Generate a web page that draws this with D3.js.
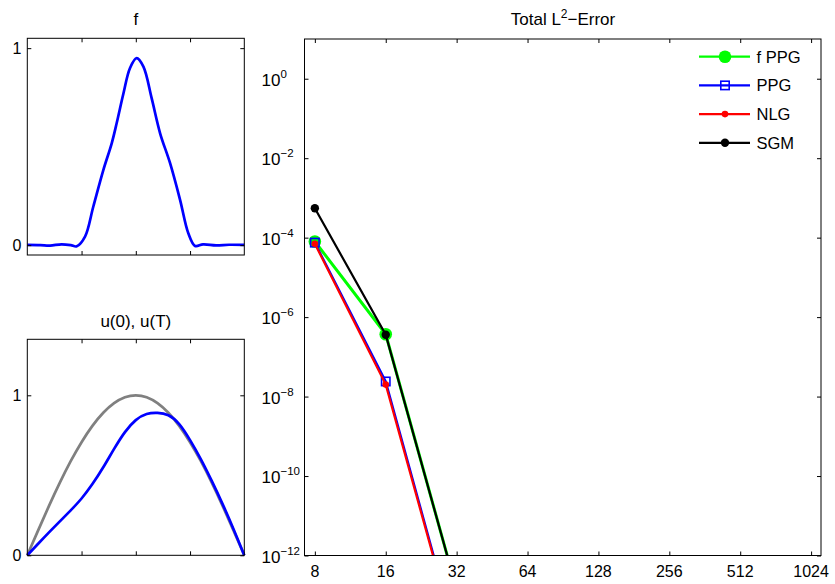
<!DOCTYPE html>
<html>
<head>
<meta charset="utf-8">
<script src="https://cdn.jsdelivr.net/npm/d3@7"></script>
<style>
  body { margin: 0; background: white; }
  text { font-family: "Liberation Sans", Arial, sans-serif; fill: black; }
</style>
</head>
<body>
<div id="canvas"></div>
<script>
"use strict"

/* Data */

/* top left: source term f */
let fX = [0, 0.06, 0.105, 0.158, 0.2, 0.228, 0.266, 0.304, 0.35, 0.389, 0.412, 0.443, 0.473, 0.504, 0.535, 0.573, 0.612, 0.658, 0.704, 0.742, 0.773, 0.81, 0.87, 0.93, 1];
let fY = [0.001, 0.0, -0.002, 0.004, 0.0, -0.006, 0.043, 0.195, 0.38, 0.517, 0.62, 0.77, 0.898, 0.949, 0.906, 0.746, 0.568, 0.416, 0.23, 0.06, -0.004, 0.004, -0.001, 0.002, 0.001];

/* bottom left: u(0) grey, u(T) blue */
let uX = [0, 0.05, 0.1, 0.15, 0.2, 0.25, 0.3, 0.35, 0.4, 0.45, 0.5, 0.55, 0.6, 0.65, 0.7, 0.75, 0.8, 0.85, 0.9, 0.95, 1];
let u0 = [0, 0.156, 0.309, 0.454, 0.588, 0.707, 0.809, 0.891, 0.951, 0.988, 1, 0.988, 0.951, 0.891, 0.809, 0.707, 0.588, 0.454, 0.309, 0.156, 0];
let uT = [0, 0.072, 0.143, 0.212, 0.281, 0.355, 0.445, 0.55, 0.665, 0.77, 0.845, 0.883, 0.89, 0.875, 0.82, 0.72, 0.60, 0.465, 0.32, 0.165, 0];

/* right: total L2 error */
let nValues = [8, 16, 32, 64, 128, 256, 512, 1024];
let fppgErr = [8.0e-5, 3.7e-7, 1.4e-13, 3e-15, 3e-15, 4e-15, 5e-15, 6e-15];
let ppgErr = [7.5e-5, 2.4e-8, 8.0e-15, 2e-15, 2e-15, 3e-15, 4e-15, 5e-15];
let nlgErr = [7.0e-5, 2.0e-8, 7.0e-15, 2e-15, 2e-15, 3e-15, 4e-15, 5e-15];
let sgmErr = [5.5e-4, 3.6e-7, 1.4e-13, 3e-15, 3e-15, 4e-15, 5e-15, 6e-15];
let seriesNames = ["f PPG", "PPG", "NLG", "SGM"];
let yTickExponents = [0, -2, -4, -6, -8, -10, -12];

/* Drawing canvas */
let drawing = d3.select("#canvas")
    .append("svg")
    .attr("width", 835)
    .attr("height", 584);

drawing.append("rect")
    .attr("width", 835)
    .attr("height", 584)
    .attr("fill", "white");

/* helper: box with inward ticks on all four sides */
function drawFrame(g, x, y, xTicks, yTicks, yFormat) {
    let [x0, x1] = x.range();
    let [y0, y1] = y.range();
    g.append("g").attr("transform", `translate(0,${y0})`)
        .call(d3.axisBottom(x).tickValues(xTicks).tickSizeInner(-4).tickSizeOuter(0).tickFormat(""));
    g.append("g").attr("transform", `translate(0,${y1})`)
        .call(d3.axisTop(x).tickValues(xTicks).tickSizeInner(-4).tickSizeOuter(0).tickFormat(""));
    g.append("g").attr("transform", `translate(${x0},0)`)
        .call(d3.axisLeft(y).tickValues(yTicks).tickSizeInner(-4).tickSizeOuter(0).tickPadding(6).tickFormat(yFormat));
    g.append("g").attr("transform", `translate(${x1},0)`)
        .call(d3.axisRight(y).tickValues(yTicks).tickSizeInner(-4).tickSizeOuter(0).tickFormat(""));
    g.selectAll(".domain").remove();
    g.selectAll(".tick line").attr("stroke", "black");
    g.selectAll(".tick text").attr("font-size", 16).attr("font-family", "Liberation Sans, Arial, sans-serif");
    g.append("rect")
        .attr("x", x0).attr("y", y1)
        .attr("width", x1 - x0).attr("height", y0 - y1)
        .attr("fill", "none").attr("stroke", "black").attr("stroke-width", 1);
}

/* Top left panel: f */
let fPanel = drawing.append("g");
let xF = d3.scaleLinear().domain([0, 1]).range([27.3, 244.3]);
let yF = d3.scaleLinear().domain([-0.05, 1.05]).range([255, 38.3]);

let fLine = d3.line()
    .x((d, i) => xF(fX[i]))
    .y(d => yF(d))
    .curve(d3.curveCatmullRom);

fPanel.append("path")
    .attr("d", fLine(fY))
    .attr("fill", "none")
    .attr("stroke", "#0000ff")
    .attr("stroke-width", 2.7);

drawFrame(fPanel, xF, yF, [0.25, 0.5, 0.75], [0, 1], d3.format("d"));

fPanel.append("text")
    .attr("x", 135.8).attr("y", 25)
    .attr("text-anchor", "middle")
    .attr("font-size", 17)
    .text("f");

/* Bottom left panel: u(0), u(T) */
let uPanel = drawing.append("g");
let xU = d3.scaleLinear().domain([0, 1]).range([27.3, 244.3]);
let yU = d3.scaleLinear().domain([0, 1.35]).range([555.3, 339.3]);

let uLine = d3.line()
    .x((d, i) => xU(uX[i]))
    .y(d => yU(d))
    .curve(d3.curveNatural);

uPanel.append("path")
    .attr("d", uLine(u0))
    .attr("fill", "none")
    .attr("stroke", "#808080")
    .attr("stroke-width", 2.7);

uPanel.append("path")
    .attr("d", uLine(uT))
    .attr("fill", "none")
    .attr("stroke", "#0000ff")
    .attr("stroke-width", 2.7);

drawFrame(uPanel, xU, yU, [0.25, 0.5, 0.75], [0, 1], d3.format("d"));

uPanel.append("text")
    .attr("x", 135.8).attr("y", 326.5)
    .attr("text-anchor", "middle")
    .attr("font-size", 17)
    .text("u(0), u(T)");

/* Right panel: error vs n (log-log) */
let errPanel = drawing.append("g");
let xE = d3.scaleLog().base(2).domain([7.23, 1128]).range([304.5, 821]);
let yE = d3.scaleLog().domain([1e-12, 10]).range([555.5, 39]);

drawing.append("clipPath").attr("id", "errClip")
    .append("rect")
    .attr("x", 304.5).attr("y", 39)
    .attr("width", 821 - 304.5).attr("height", 555.5 - 39);

let seriesData = [fppgErr, ppgErr, nlgErr, sgmErr];
let seriesColors = ["#00ff00", "#0000ff", "#ff0000", "#000000"];
let seriesWidths = [3, 2.2, 2.2, 2.2];

let errLine = d3.line()
    .x((d, i) => xE(nValues[i]))
    .y(d => yE(d));

/* marker per series */
function drawMarker(g, k, cx, cy) {
    if (k === 0) {
        g.append("circle").attr("cx", cx).attr("cy", cy).attr("r", 6.3).attr("fill", "#00ff00");
    } else if (k === 1) {
        g.append("rect").attr("x", cx - 4.2).attr("y", cy - 4.2)
            .attr("width", 8.4).attr("height", 8.4)
            .attr("fill", "none").attr("stroke", "#0000ff").attr("stroke-width", 1.6);
    } else if (k === 2) {
        g.append("circle").attr("cx", cx).attr("cy", cy).attr("r", 3.3).attr("fill", "#ff0000");
    } else {
        g.append("circle").attr("cx", cx).attr("cy", cy).attr("r", 4.2).attr("fill", "#000000");
    }
}

let plotArea = errPanel.append("g").attr("clip-path", "url(#errClip)");

seriesData.forEach((vals, k) => {
    plotArea.append("path")
        .attr("d", errLine(vals))
        .attr("fill", "none")
        .attr("stroke", seriesColors[k])
        .attr("stroke-width", seriesWidths[k]);
    vals.forEach((v, i) => {
        if (v >= 1e-12) drawMarker(plotArea, k, xE(nValues[i]), yE(v));
    });
});

let yTickValues = yTickExponents.map(e => Math.pow(10, e));
drawFrame(errPanel, xE, yE, nValues, yTickValues, () => "");

/* x tick labels */
errPanel.selectAll(".xlab")
    .data(nValues)
    .enter()
    .append("text")
    .attr("x", d => xE(d))
    .attr("y", 576.5)
    .attr("text-anchor", "middle")
    .attr("font-size", 16)
    .text(d => d);

/* y tick labels 10^e */
yTickExponents.forEach(e => {
    let t = errPanel.append("text")
        .attr("x", 261.5)
        .attr("y", yE(Math.pow(10, e)) + 7.3)
        .attr("font-size", 17);
    t.append("tspan").text("10");
    t.append("tspan")
        .attr("dy", -8.3)
        .attr("font-size", 11.5)
        .text(e === 0 ? "0" : "\u2212" + Math.abs(e));
});

/* title */
let title = errPanel.append("text")
    .attr("x", 563).attr("y", 25)
    .attr("text-anchor", "middle")
    .attr("font-size", 17);
title.append("tspan").text("Total L");
title.append("tspan").attr("dy", -7).attr("font-size", 12).text("2");
title.append("tspan").attr("dy", 7).text("\u2212Error");

/* legend */
let legend = errPanel.append("g");
seriesNames.forEach((name, k) => {
    let ly = 56.7 + k * 28.7;
    legend.append("line")
        .attr("x1", 699).attr("x2", 750)
        .attr("y1", ly).attr("y2", ly)
        .attr("stroke", seriesColors[k])
        .attr("stroke-width", 2.2);
    drawMarker(legend, k, 725, ly);
    legend.append("text")
        .attr("x", 756.5).attr("y", ly + 5.8)
        .attr("font-size", 16.5)
        .text(name);
});
</script>
</body>
</html>
